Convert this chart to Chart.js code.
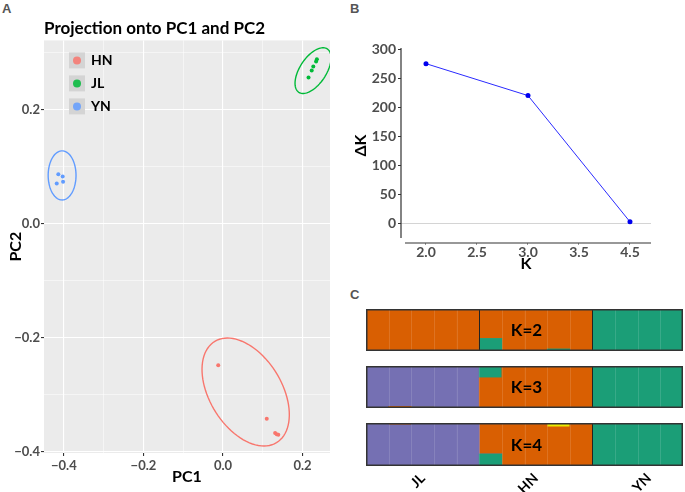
<!DOCTYPE html>
<html>
<head>
<meta charset="utf-8">
<script src="https://cdn.jsdelivr.net/npm/chart.js@4.4.1/dist/chart.umd.min.js"></script>
<style>
  html, body { margin: 0; padding: 0; background: #fff; }
  body { position: relative; width: 685px; height: 492px; overflow: hidden; }
  canvas { position: absolute; }
  .tag { position: absolute; font: bold 13px "Liberation Sans", Arial, sans-serif; color: #555; }
</style>
</head>
<body>
<div class="tag" style="left:2px;top:1px">A</div>
<div class="tag" style="left:350px;top:1px">B</div>
<div class="tag" style="left:350px;top:287px">C</div>

<canvas id="pcaChart" width="336" height="492" style="left:0;top:0"></canvas>
<canvas id="deltaKChart" width="345" height="280" style="left:340px;top:0"></canvas>
<canvas id="k2Chart" width="317" height="42" style="left:366px;top:309px"></canvas>
<canvas id="k3Chart" width="317" height="42" style="left:366px;top:366px"></canvas>
<canvas id="k4Chart" width="317" height="69" style="left:366px;top:423px"></canvas>

<script>
// ---- panel A: PCA ----
var groupNames = ["HN", "JL", "YN"];
var groupColors = ["#F8766D", "#00BA38", "#619CFF"];
var hnPC1 = [-0.012, 0.110, 0.131, 0.135, 0.139];
var hnPC2 = [-0.248, -0.342, -0.367, -0.369, -0.370];
var jlPC1 = [0.236, 0.234, 0.227, 0.223, 0.215];
var jlPC2 = [0.289, 0.285, 0.276, 0.269, 0.257];
var ynPC1 = [-0.414, -0.403, -0.402, -0.418];
var ynPC2 = [0.087, 0.083, 0.074, 0.071];
// ellipses: centre x, centre y, then two conjugate semi-axes (x, y) in data units
var hnEllipse = [0.057, -0.295, 0.0775, -0.0889, -0.0777, -0.0327];
var jlEllipse = [0.2264, 0.269, 0.0357, 0.0381, 0.0279, -0.0126];
var ynEllipse = [-0.4045, 0.0851, 0, 0.0431, 0.0350, 0];
var pcXTicks = [-0.4, -0.3, -0.2, -0.1, 0, 0.1, 0.2];
var pcXTickLabels = ["\u22120.4", "", "\u22120.2", "", "0.0", "", "0.2"];
var pcYTicks = [-0.4, -0.3, -0.2, -0.1, 0, 0.1, 0.2, 0.3];
var pcYTickLabels = ["\u22120.4", "", "\u22120.2", "", "0.0", "", "0.2", ""];

// ---- panel B: delta K ----
var kValues = [2, 3, 4];
var deltaK = [275, 220, 2.5];
var kTicks = [2, 2.5, 3, 3.5, 4];
var kTickLabels = ["2.0", "2.5", "3.0", "3.5", "4.5"];
var deltaKTicks = [0, 50, 100, 150, 200, 250, 300];

// ---- panel C: structure (5 JL, 5 HN, 4 YN) ----
var individuals = ["JL1", "JL2", "JL3", "JL4", "JL5", "HN1", "HN2", "HN3", "HN4", "HN5", "YN1", "YN2", "YN3", "YN4"];
var popTickLabels = ["", "", "JL", "", "", "", "", "HN", "", "", "", "", "YN", ""];
var k2Green  = [0, 0, 0, 0, 0, 0.30, 0, 0, 0.05, 0, 1, 1, 1, 1];
var k2Orange = [1, 1, 1, 1, 1, 0.70, 1, 1, 0.95, 1, 0, 0, 0, 0];
var k3Orange = [0, 0.04, 0.02, 0, 0, 0.72, 1, 1, 0.97, 1, 0, 0, 0, 0];
var k3Green  = [0, 0, 0, 0, 0, 0.28, 0, 0, 0, 0, 1, 1, 1, 1];
var k3Purple = [1, 0.96, 0.98, 1, 1, 0, 0, 0, 0.03, 0, 0, 0, 0, 0];
var k4Green  = [0, 0, 0, 0, 0, 0.28, 0, 0, 0, 0, 1, 1, 1, 1];
var k4Purple = [1, 0.96, 0.985, 1, 1, 0, 0, 0, 0, 0, 0, 0, 0, 0];
var k4Orange = [0, 0.04, 0.015, 0, 0, 0.72, 1, 1, 0.91, 1, 0, 0, 0, 0];
var k4Yellow = [0, 0, 0, 0, 0, 0, 0, 0, 0.09, 0, 0, 0, 0, 0];

var ORANGE = "#D95F02", GREEN = "#1B9E77", PURPLE = "#7570B3", YELLOW = "#EBEB00";
var tickGray = "#4d4d4d";

Chart.defaults.font.family = "Lato, 'Open Sans', sans-serif";
Chart.defaults.animation = false;

function toPoints(xs, ys) {
    return xs.map(function (x, i) { return { x: x, y: ys[i] }; });
}

var panelBackground = {
    id: 'panelBackground',
    beforeDraw: function (chart) {
        var a = chart.chartArea, ctx = chart.ctx;
        ctx.save();
        ctx.fillStyle = '#EBEBEB';
        ctx.fillRect(a.left, a.top, a.width, a.height);
        ctx.restore();
    }
};

var ellipsePlugin = {
    id: 'ellipses',
    afterDatasetsDraw: function (chart) {
        var ctx = chart.ctx, xs = chart.scales.x, ys = chart.scales.y, a = chart.chartArea;
        ctx.save();
        ctx.beginPath();
        ctx.rect(a.left, a.top, a.width, a.height);
        ctx.clip();
        chart.data.datasets.forEach(function (ds) {
            var e = ds.ellipse;
            ctx.beginPath();
            for (var i = 0; i <= 90; i++) {
                var t = i / 90 * Math.PI * 2;
                var px = xs.getPixelForValue(e[0] + e[2] * Math.cos(t) + e[4] * Math.sin(t));
                var py = ys.getPixelForValue(e[1] + e[3] * Math.cos(t) + e[5] * Math.sin(t));
                if (i === 0) ctx.moveTo(px, py); else ctx.lineTo(px, py);
            }
            ctx.strokeStyle = ds.backgroundColor;
            ctx.lineWidth = 1.4;
            ctx.stroke();
        });
        ctx.restore();
    }
};

// ggplot style legend with grey keys inside the panel
var legendKeys = {
    id: 'legendKeys',
    afterDraw: function (chart) {
        var ctx = chart.ctx, a = chart.chartArea;
        ctx.save();
        chart.data.datasets.forEach(function (ds, i) {
            var top = a.top + 12 + i * 23;
            ctx.fillStyle = '#D4D4D4';
            ctx.fillRect(a.left + 25, top, 16, 16);
            ctx.beginPath();
            ctx.arc(a.left + 33, top + 8, 4, 0, Math.PI * 2);
            ctx.fillStyle = ds.backgroundColor;
            ctx.globalAlpha = 0.85;
            ctx.fill();
            ctx.globalAlpha = 1;
            ctx.fillStyle = '#000';
            ctx.font = "bold 14px Lato, sans-serif";
            ctx.textBaseline = 'middle';
            ctx.fillText(ds.label, a.left + 47, top + 8.5);
        });
        ctx.restore();
    }
};

var pcaChart = new Chart(document.getElementById('pcaChart'), {
    type: 'scatter',
    data: {
        datasets: [
            { label: groupNames[0], data: toPoints(hnPC1, hnPC2), backgroundColor: groupColors[0], ellipse: hnEllipse },
            { label: groupNames[1], data: toPoints(jlPC1, jlPC2), backgroundColor: groupColors[1], ellipse: jlEllipse },
            { label: groupNames[2], data: toPoints(ynPC1, ynPC2), backgroundColor: groupColors[2], ellipse: ynEllipse }
        ]
    },
    options: {
        responsive: false,
        layout: { padding: { right: 6 } },
        elements: { point: { radius: 2, borderWidth: 0 } },
        plugins: {
            legend: { display: false },
            tooltip: { enabled: false },
            title: {
                display: true, text: 'Projection onto PC1 and PC2', align: 'start', fullSize: false,
                color: '#000', font: { size: 17, weight: 'bold' }, padding: { top: 18, bottom: 2 }
            }
        },
        scales: {
            x: {
                type: 'linear', min: -0.45, max: 0.269,
                afterBuildTicks: function (s) { s.ticks = pcXTicks.map(function (v) { return { value: v }; }); },
                afterFit: function (s) { s.height = 39; },
                ticks: {
                    color: tickGray, font: { size: 13, weight: 'bold' }, padding: 2, maxRotation: 0,
                    callback: function (v, i) { return pcXTickLabels[i]; }
                },
                grid: {
                    color: '#fff', tickLength: 3,
                    lineWidth: function (c) { return pcXTickLabels[c.index] ? 1.1 : 0.5; },
                    tickColor: function (c) { return pcXTickLabels[c.index] ? '#333' : 'rgba(0,0,0,0)'; }
                },
                border: { display: false },
                title: { display: true, text: 'PC1', color: '#000', font: { size: 16, weight: 'bold' }, padding: { top: 0, bottom: 6 } }
            },
            y: {
                type: 'linear', min: -0.402, max: 0.322,
                afterBuildTicks: function (s) { s.ticks = pcYTicks.map(function (v) { return { value: v }; }); },
                afterFit: function (s) { s.width = 44; },
                ticks: {
                    color: tickGray, font: { size: 13, weight: 'bold' }, padding: 1,
                    callback: function (v, i) { return pcYTickLabels[i]; }
                },
                grid: {
                    color: '#fff', tickLength: 3,
                    lineWidth: function (c) { return pcYTickLabels[c.index] ? 1.1 : 0.5; },
                    tickColor: function (c) { return pcYTickLabels[c.index] ? '#333' : 'rgba(0,0,0,0)'; }
                },
                border: { display: false },
                title: { display: true, text: 'PC2', color: '#000', font: { size: 16, weight: 'bold' }, padding: { top: 6, bottom: 0 } }
            }
        }
    },
    plugins: [panelBackground, ellipsePlugin, legendKeys]
});

// ---- panel B ----
var classicAxes = {
    id: 'classicAxes',
    afterDraw: function (chart) {
        var ctx = chart.ctx, a = chart.chartArea;
        ctx.save();
        ctx.strokeStyle = '#333';
        ctx.lineWidth = 1.2;
        ctx.beginPath();
        ctx.moveTo(a.left, a.top);
        ctx.lineTo(a.left, a.bottom - 5);
        ctx.moveTo(a.left + 4, a.bottom);
        ctx.lineTo(a.right, a.bottom);
        ctx.stroke();
        ctx.restore();
    }
};

var deltaKChart = new Chart(document.getElementById('deltaKChart'), {
    type: 'line',
    data: {
        datasets: [{
            data: toPoints(kValues, deltaK),
            borderColor: '#2a2aff', backgroundColor: '#0000ee',
            borderWidth: 1, pointRadius: 2.5, pointBorderWidth: 0, tension: 0
        }]
    },
    options: {
        responsive: false,
        layout: { padding: { top: 48, right: 34 } },
        plugins: { legend: { display: false }, tooltip: { enabled: false } },
        scales: {
            x: {
                type: 'linear', min: 1.755, max: 4.206,
                afterBuildTicks: function (s) { s.ticks = kTicks.map(function (v) { return { value: v }; }); },
                afterFit: function (s) { s.height = 37; },
                ticks: {
                    color: tickGray, font: { size: 14, weight: 'bold' }, padding: -1, maxRotation: 0,
                    callback: function (v, i) { return kTickLabels[i]; }
                },
                grid: { drawOnChartArea: false, tickLength: 2, tickColor: '#999' },
                border: { display: false },
                title: { display: true, text: 'K', color: '#000', font: { size: 16, weight: 'bold' }, padding: { top: 0, bottom: 7 } }
            },
            y: {
                type: 'linear', min: -34, max: 302,
                afterBuildTicks: function (s) { s.ticks = deltaKTicks.map(function (v) { return { value: v }; }); },
                afterFit: function (s) { s.width = 61; },
                ticks: { color: tickGray, font: { size: 14, weight: 'bold' }, padding: 2 },
                grid: {
                    tickLength: 3, tickColor: '#333',
                    color: function (c) { return c.tick && c.tick.value === 0 ? '#d4d4d4' : 'rgba(0,0,0,0)'; }
                },
                border: { display: false },
                title: { display: true, text: '\u0394K', color: '#000', font: { size: 16, weight: 'bold' }, padding: { top: 11, bottom: 0 } }
            }
        }
    },
    plugins: [classicAxes]
});

// ---- panel C ----
function popOf(name) { return name.slice(0, 2); }

var stripFrame = {
    id: 'stripFrame',
    afterDatasetsDraw: function (chart, args, opts) {
        var ctx = chart.ctx, a = chart.chartArea, xs = chart.scales.x;
        ctx.save();
        for (var i = 1; i < individuals.length; i++) {
            var px = Math.round((xs.getPixelForValue(i - 1) + xs.getPixelForValue(i)) / 2) + 0.5;
            var pop = popOf(individuals[i]);
            var newPop = pop !== popOf(individuals[i - 1]);
            ctx.beginPath();
            ctx.moveTo(px, a.top);
            ctx.lineTo(px, a.bottom);
            if (newPop && opts.darkBefore.indexOf(pop) >= 0) {
                ctx.strokeStyle = '#222';
            } else {
                ctx.strokeStyle = 'rgba(255,255,255,0.13)';
            }
            ctx.lineWidth = 1;
            ctx.stroke();
        }
        ctx.strokeStyle = '#333';
        ctx.lineWidth = 1.5;
        ctx.strokeRect(a.left + 0.75, a.top + 0.75, a.width - 1.5, a.height - 1.5);
        ctx.fillStyle = '#000';
        ctx.font = "bold 17px Lato, sans-serif";
        ctx.textAlign = 'center';
        ctx.textBaseline = 'middle';
        ctx.fillText(opts.label, (a.left + a.right) / 2 + 2, (a.top + a.bottom) / 2 + 1);
        ctx.restore();
    }
};

function makeStrip(id, series, colors, label, darkBefore, showLabels) {
    return new Chart(document.getElementById(id), {
        type: 'bar',
        data: {
            labels: individuals,
            datasets: series.map(function (s, i) {
                return { data: s, backgroundColor: colors[i], borderWidth: 0, barPercentage: 1, categoryPercentage: 1 };
            })
        },
        options: {
            responsive: false,
            layout: { padding: 0 },
            plugins: {
                legend: { display: false }, tooltip: { enabled: false },
                stripFrame: { label: label, darkBefore: darkBefore }
            },
            scales: {
                x: {
                    stacked: true, display: showLabels,
                    afterFit: function (s) {
                        s.height = showLabels ? 26 : 0;
                        s.paddingLeft = 0;
                        s.paddingRight = 0;
                    },
                    grid: { display: false }, border: { display: false },
                    ticks: {
                        autoSkip: false, minRotation: 45, maxRotation: 45, padding: -4,
                        color: '#000', font: { size: 14, weight: 'bold' },
                        callback: function (v, i) { return popTickLabels[i]; }
                    }
                },
                y: { stacked: true, display: false, min: 0, max: 1 }
            }
        },
        plugins: [stripFrame]
    });
}

makeStrip('k2Chart', [k2Green, k2Orange], [GREEN, ORANGE], 'K=2', ['HN', 'YN'], false);
makeStrip('k3Chart', [k3Orange, k3Green, k3Purple], [ORANGE, GREEN, PURPLE], 'K=3', ['YN'], false);
makeStrip('k4Chart', [k4Green, k4Purple, k4Orange, k4Yellow], [GREEN, PURPLE, ORANGE, YELLOW], 'K=4', ['YN'], true);
</script>
</body>
</html>
